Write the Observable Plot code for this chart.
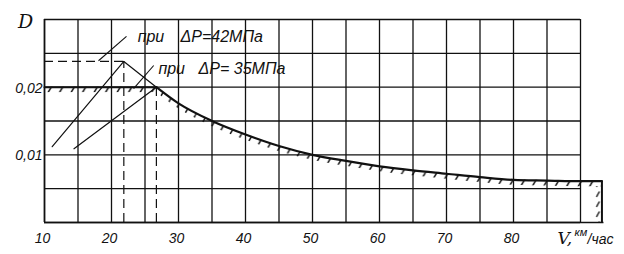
<!DOCTYPE html>
<html><head><meta charset="utf-8">
<script src="https://cdn.jsdelivr.net/npm/d3@7"></script>
<script src="https://cdn.jsdelivr.net/npm/@observablehq/plot@0.6"></script>
<style>html,body{margin:0;padding:0;background:#fff}svg{display:block}</style>
</head><body><div id="chart"></div>
<script>
// grid and ticks
const gridX = [10,15,20,25,30,35,40,45,50,55,60,65,70,75,80,85,90];
const gridY = [0,0.005,0.01,0.015,0.02,0.025,0.03];
const xTickValues = [10,20,30,40,50,60,70,80];
const xTickLabels = ["10","20","30","40","50","60","70","80"];
const yTickValues = [0.01,0.02];
const yTickLabels = ["0,01","0,02"];

// limit curve D(V)
const curveSpeeds = [26.7,30,35,40,45,50,55,60,65,70,75,80,85,90,93.2];
const curveD = [0.0200,0.0176,0.0150,0.0130,0.0113,0.0100,0.0091,0.0083,0.0077,0.0072,0.0067,0.0063,0.0062,0.0061,0.0061];
// horizontal limit 0.02 at low speed
const limitSpeeds = [10,26.7];
const limitD = [0.02,0.02];
// right edge of region
const edgeSpeed = 93.2;
const edgeD = [0,0.0061];

// ΔP = 42 MPa branch
const line42Speeds = [11.15,21.84,26.7];
const line42D = [0.0112,0.0238,0.0200];
// ΔP = 35 MPa branch
const line35Speeds = [14.4,26.7];
const line35D = [0.0109,0.0200];
// peaks (dashed projections)
const peakSpeeds = [21.84,26.7];
const peakD = [0.0238,0.0200];

// annotation leaders and labels
const leaderX1 = [18.06,23.3];
const leaderY1 = [0.0239,0.0198];
const leaderX2 = [22.24,26.3];
const leaderY2 = [0.0275,0.0232];
const notePre = ["при","при"];
const noteMain = ["ΔP=42МПа","ΔP= 35МПа"];
const notePreX = [23.9,27.0];
const noteMainX = [30.3,33.0];
const noteY = [0.0275,0.0227];

const hatchBand = 0.0008;
const ink = "#111";
const font = "Liberation Sans, Arial, sans-serif";

const curve = curveSpeeds.map((v,i)=>({v, D: curveD[i]}));
const limit = limitSpeeds.map((v,i)=>({v, D: limitD[i]}));
const l42 = line42Speeds.map((v,i)=>({v, D: line42D[i]}));
const l35 = line35Speeds.map((v,i)=>({v, D: line35D[i]}));
const peaks = peakSpeeds.map((v,i)=>({v, D: peakD[i]}));
const leaders = leaderX1.map((x,i)=>({x1:x, y1:leaderY1[i], x2:leaderX2[i], y2:leaderY2[i]}));
const notes = notePre.map((t,i)=>({pre:t, main:noteMain[i], xp:notePreX[i], xm:noteMainX[i], y:noteY[i]}));

const svg = Plot.plot({
  width: 624, height: 254,
  marginLeft: 44, marginRight: 44, marginTop: 19, marginBottom: 32,
  x: {domain: [10, 90], axis: null},
  y: {domain: [0, 0.03], axis: null},
  marks: [
    // hatching
    Plot.areaY(curve, {x: "v", y1: d => d.D - hatchBand, y2: "D", fill: "url(#hatchH)", curve: "monotone-x"}),
    Plot.rect([limit], {x1: d => d[0].v, x2: d => d[1].v, y1: d => d[0].D - hatchBand, y2: d => d[0].D, fill: "url(#hatchH)"}),
    Plot.rect([edgeD], {x1: edgeSpeed - 0.9, x2: edgeSpeed, y1: d => d[0], y2: d => d[1] - hatchBand, fill: "url(#hatchV)"}),
    // grid
    Plot.ruleX(gridX, {y1: 0, y2: 0.03, stroke: ink, strokeWidth: 1.3}),
    Plot.ruleY(gridY, {x1: 10, x2: 90, stroke: ink, strokeWidth: 1.3}),
    Plot.ruleY([0], {x1: 10, x2: edgeSpeed + 0.3, stroke: ink, strokeWidth: 1.6}),
    Plot.ruleX([10], {y1: 0, y2: 0.03, stroke: ink, strokeWidth: 1.6}),
    // dashed projections
    Plot.ruleY([peaks[0]], {x1: 10, x2: "v", y: "D", stroke: ink, strokeWidth: 1.2, strokeDasharray: "9,5"}),
    Plot.ruleX(peaks, {x: "v", y1: 0, y2: "D", stroke: ink, strokeWidth: 1.2, strokeDasharray: "9,5"}),
    // branches
    Plot.line(l42, {x: "v", y: "D", stroke: ink, strokeWidth: 1.2}),
    Plot.line(l35, {x: "v", y: "D", stroke: ink, strokeWidth: 1.2}),
    // limit boundary
    Plot.line(limit, {x: "v", y: "D", stroke: ink, strokeWidth: 2}),
    Plot.line(curve, {x: "v", y: "D", stroke: ink, strokeWidth: 2.2, curve: "monotone-x"}),
    Plot.ruleX([edgeSpeed], {y1: edgeD[0], y2: edgeD[1], stroke: ink, strokeWidth: 2}),
    // leaders
    Plot.link(leaders, {x1: "x1", y1: "y1", x2: "x2", y2: "y2", stroke: ink, strokeWidth: 1.1}),
    Plot.text(notes, {x: "xp", y: "y", text: "pre", textAnchor: "start", fontSize: 16, fontStyle: "italic", fontFamily: font, fill: ink}),
    Plot.text(notes, {x: "xm", y: "y", text: "main", textAnchor: "start", fontSize: 16, fontStyle: "italic", fontFamily: font, fill: ink}),
    // tick labels
    Plot.text(xTickValues, {x: d => d, y: 0, text: (d, i) => xTickLabels[i], dy: 16, dx: -2, fontSize: 14, fontStyle: "italic", fontFamily: font, fill: ink}),
    Plot.text(yTickValues, {x: 10, y: d => d, text: (d, i) => yTickLabels[i], textAnchor: "end", dx: -2, dy: 1, fontSize: 14, fontStyle: "italic", fontFamily: font, fill: ink}),
    // axis titles
    Plot.text(["D"], {x: 10, y: 0.03, dx: -19, dy: 2, text: d => d, fontSize: 19, fontStyle: "italic", fontFamily: "DejaVu Serif, serif", fill: ink}),
    Plot.text(["V,"], {x: 90, y: 0, dx: -23, dy: 21, lineAnchor: "bottom", textAnchor: "start", text: d => d, fontSize: 17, fontStyle: "italic", fontFamily: "DejaVu Serif, serif", fill: ink}),
    Plot.text(["км"], {x: 90, y: 0, dx: -6, dy: 13, lineAnchor: "bottom", textAnchor: "start", text: d => d, fontSize: 11, fontStyle: "italic", fontFamily: font, fill: ink}),
    Plot.text(["/час"], {x: 90, y: 0, dx: 7, dy: 21, lineAnchor: "bottom", textAnchor: "start", text: d => d, fontSize: 14, fontStyle: "italic", fontFamily: font, fill: ink})
  ]
});

const edgePx = svg.scale("x").apply(edgeSpeed);
d3.select(svg).insert("defs", ":first-child").html(
  `<pattern id="hatchH" patternUnits="userSpaceOnUse" width="11.5" height="19.17">
     <path d="M-11.5,19.17L0,0M0,19.17L11.5,0M11.5,19.17L23,0" stroke="${ink}" stroke-width="1.5" fill="none"/>
   </pattern>
   <pattern id="hatchV" patternUnits="userSpaceOnUse" x="${edgePx - 7}" y="0" width="8" height="10">
     <path d="M2,7L5,1.5" stroke="${ink}" stroke-width="1.4" fill="none"/>
   </pattern>`
);
document.getElementById("chart").appendChild(svg);
</script>
</body></html>
